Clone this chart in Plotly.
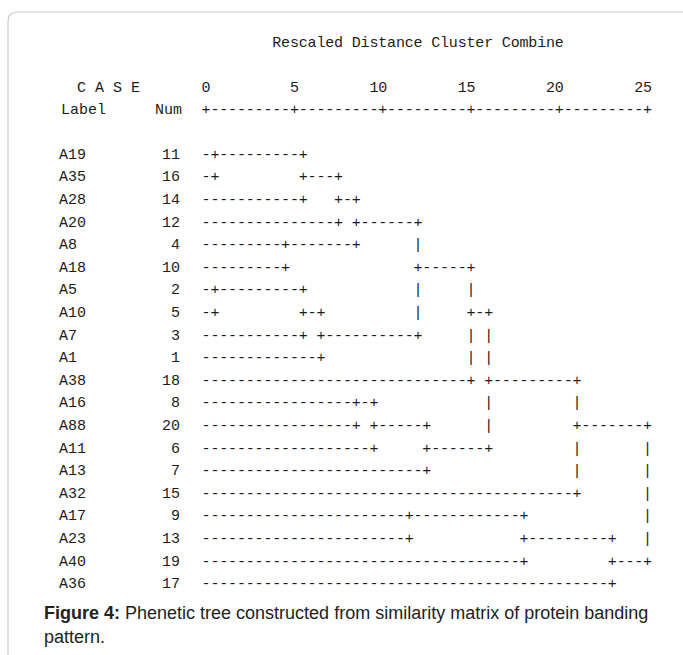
import plotly.graph_objects as go

# ---------------- data ----------------
case_labels = ["A19", "A35", "A28", "A20", "A8", "A18", "A5", "A10", "A7", "A1",
               "A38", "A16", "A88", "A11", "A13", "A32", "A17", "A23", "A40", "A36"]
case_nums = [11, 16, 14, 12, 4, 10, 2, 5, 3, 1, 18, 8, 20, 6, 7, 15, 9, 13, 19, 17]

# agglomeration schedule (a member of each joined cluster, rescaled distance)
merge_left = ["A19", "A5", "A8", "A19", "A5", "A5", "A19", "A19", "A16", "A16",
              "A17", "A19", "A16", "A19", "A19", "A17", "A19", "A17", "A19"]
merge_right = ["A35", "A10", "A18", "A28", "A7", "A1", "A20", "A8", "A88", "A11",
               "A23", "A5", "A13", "A38", "A16", "A40", "A32", "A36", "A17"]
merge_dist = [0.5, 0.5, 4.5, 5.5, 5.5, 6.5, 7.5, 8.5, 8.5, 9.5,
              11.5, 12.0, 12.5, 15.0, 16.0, 18.0, 21.0, 23.0, 25.0]

scale_ticks = [0, 5, 10, 15, 20, 25]
title_text = "Rescaled Distance Cluster Combine"
caption_bold = "Figure 4:"
caption_line1 = " Phenetic tree constructed from similarity matrix of protein banding"
caption_line2 = "pattern."

# ---------------- layout constants ----------------
W, H = 683, 655
PX0, PX_PER_D = 206.13, 17.66      # pixel x of distance 0, pixels per distance unit
PY0, PY_ROW = 155.0, 22.6          # pixel y of first case row, pixels per row
MONO = "Liberation Mono, DejaVu Sans Mono, monospace"
INK = "#1c1c1c"


def px_to_d(px):
    return (px - PX0) / PX_PER_D


def py_to_row(py):
    return 1 + (py - PY0) / PY_ROW


def col_of(d):          # character column of a rescaled distance
    return int(round(2 * d)) + 1


def d_of_col(c):
    return (c - 1) / 2.0


# ---------------- build the text dendrogram ----------------
row_of = {lab: i + 1 for i, lab in enumerate(case_labels)}
parent = {lab: lab for lab in case_labels}
state = {lab: (row_of[lab], 0) for lab in case_labels}   # (line row, end column)
grid = {}


def find(x):
    while parent[x] != x:
        x = parent[x]
    return x


for k, (a, b, d) in enumerate(zip(merge_left, merge_right, merge_dist)):
    ra_root, rb_root = find(a), find(b)
    (ra, ca), (rb, cb) = state[ra_root], state[rb_root]
    m = col_of(d)
    for r, c in ((ra, ca), (rb, cb)):
        for cc in range(c + 1, m):
            grid[(r, cc)] = "-"
        grid[(r, m)] = "+"
    lo, hi = sorted((ra, rb))
    new_r = (lo + hi) // 2
    for rr in range(lo + 1, hi):
        grid[(rr, m)] = "|"
    if k < len(merge_dist) - 1:
        grid[(new_r, m)] = "+"
    parent[rb_root] = ra_root
    state[ra_root] = (new_r, m)

tree_x = [d_of_col(c) for (r, c) in grid]
tree_y = [r for (r, c) in grid]
tree_t = list(grid.values())

# scale line  +---------+---------+ ...
tick_cols = [col_of(t) for t in scale_ticks]
scale_x, scale_t = [], []
for c in range(tick_cols[0], tick_cols[-1] + 1):
    scale_x.append(d_of_col(c))
    scale_t.append("+" if c in tick_cols else "-")

# scale numbers, right-aligned on the tick columns
num_x, num_t = [], []
for t, c in zip(scale_ticks, tick_cols):
    s = str(t)
    for k, ch in enumerate(s):
        num_x.append(d_of_col(c - (len(s) - 1 - k)))
        num_t.append(ch)

ROW_TITLE = py_to_row(43)
ROW_CASE = py_to_row(88)
ROW_LABEL = py_to_row(110)

fig = go.Figure()

fig.add_trace(go.Scatter(x=tree_x, y=tree_y, text=tree_t, mode="text",
                         textposition="middle center",
                         textfont=dict(family=MONO, size=15, color=INK),
                         hoverinfo="skip"))
fig.add_trace(go.Scatter(x=scale_x, y=[ROW_LABEL] * len(scale_x), text=scale_t,
                         mode="text", textposition="middle center",
                         textfont=dict(family=MONO, size=15, color=INK),
                         hoverinfo="skip"))
fig.add_trace(go.Scatter(x=num_x, y=[ROW_CASE] * len(num_x), text=num_t,
                         mode="text", textposition="middle center",
                         textfont=dict(family=MONO, size=15, color=INK),
                         hoverinfo="skip"))

# title, char by char on the same grid
title_start = 9
fig.add_trace(go.Scatter(x=[d_of_col(title_start + k) for k in range(len(title_text))],
                         y=[ROW_TITLE] * len(title_text), text=list(title_text),
                         mode="text", textposition="middle center",
                         textfont=dict(family=MONO, size=15, color=INK),
                         hoverinfo="skip"))

# case labels and numbers
rows = list(range(1, len(case_labels) + 1))
fig.add_trace(go.Scatter(x=[px_to_d(59)] * len(rows), y=rows, text=case_labels,
                         mode="text", textposition="middle right",
                         textfont=dict(family=MONO, size=15, color=INK),
                         hoverinfo="skip"))
fig.add_trace(go.Scatter(x=[px_to_d(180)] * len(rows), y=rows,
                         text=[str(n) for n in case_nums],
                         mode="text", textposition="middle left",
                         textfont=dict(family=MONO, size=15, color=INK),
                         hoverinfo="skip"))

# header words
fig.add_trace(go.Scatter(x=[px_to_d(77), px_to_d(61), px_to_d(182)],
                         y=[ROW_CASE, ROW_LABEL, ROW_LABEL],
                         text=["C A S E", "Label", "Num"], mode="text",
                         textposition=["middle right", "middle right", "middle left"],
                         textfont=dict(family=MONO, size=15, color=INK),
                         hoverinfo="skip"))

# caption
CAP_FONT = dict(family="Liberation Sans, Arial, sans-serif", size=18, color="#222")
fig.add_annotation(x=px_to_d(42), y=py_to_row(613), xref="x", yref="y",
                   text="<b>" + caption_bold + "</b>" + caption_line1,
                   showarrow=False, xanchor="left", yanchor="middle", font=CAP_FONT)
fig.add_annotation(x=px_to_d(42), y=py_to_row(637), xref="x", yref="y",
                   text=caption_line2, showarrow=False, xanchor="left", yanchor="middle",
                   font=CAP_FONT)

# rounded frame (left and top edges)
x0, y0, rad = 8 / W, 1 - 12 / H, 10
path = (f"M {x0},{-0.01} L {x0},{1 - (12 + rad) / H} "
        f"Q {x0},{y0} {(8 + rad) / W},{y0} L 1.02,{y0}")
fig.add_shape(type="path", path=path, xref="paper", yref="paper",
              line=dict(color="#c9c9c9", width=1.2))

fig.update_layout(
    width=W, height=H,
    margin=dict(l=0, r=0, t=0, b=0),
    paper_bgcolor="white", plot_bgcolor="white",
    showlegend=False,
    xaxis=dict(range=[px_to_d(0), px_to_d(W)], visible=False, fixedrange=True),
    yaxis=dict(range=[py_to_row(H), py_to_row(0)], visible=False, fixedrange=True),
)

fig.write_html("out.html", config={"displayModeBar": False},
               post_script="document.body.style.margin='0';")
